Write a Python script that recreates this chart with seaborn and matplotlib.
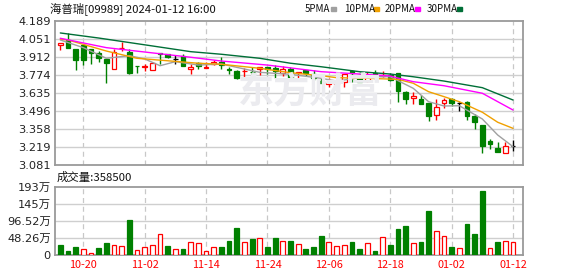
import numpy as np
import matplotlib
matplotlib.use("Agg")
import matplotlib.pyplot as plt
import seaborn as sns

# ---------------- data ----------------
dates = ["10-17", "10-18", "10-19", "10-20", "10-24", "10-25", "10-26", "10-27",
         "10-30", "10-31", "11-01", "11-02", "11-03", "11-06", "11-07", "11-08",
         "11-09", "11-10", "11-13", "11-14", "11-15", "11-16", "11-17", "11-20",
         "11-21", "11-22", "11-23", "11-24", "11-27", "11-28", "11-29", "11-30",
         "12-01", "12-04", "12-05", "12-06", "12-07", "12-08", "12-11", "12-12",
         "12-13", "12-14", "12-15", "12-18", "12-19", "12-20", "12-21", "12-22",
         "12-27", "12-28", "12-29", "01-02", "01-03", "01-04", "01-05", "01-08",
         "01-09", "01-10", "01-11", "01-12"]

opens = [4.004, 4.043, 3.974, 4.002, 3.974, 3.940, 3.899, 3.816, 3.978, 3.948,
         3.842, 3.836, 3.812, 3.942, 3.935, 3.897, 3.922, 3.817, 3.868, 3.829,
         3.856, 3.876, 3.816, 3.807, 3.803, 3.800, 3.817, 3.833, 3.824, 3.789,
         3.820, 3.791, 3.812, 3.779, 3.730, 3.708, 3.704, 3.717, 3.808, 3.777,
         3.724, 3.789, 3.768, 3.777, 3.787, 3.640, 3.594, 3.585, 3.558, 3.466,
         3.556, 3.587, 3.556, 3.566, 3.460, 3.389, 3.262, 3.208, 3.176, 3.229]
highs = [4.022, 4.094, 3.974, 4.002, 3.974, 3.962, 3.902, 3.977, 4.031, 3.976,
         3.842, 3.858, 3.877, 3.944, 3.938, 3.927, 3.935, 3.858, 3.870, 3.876,
         3.889, 3.914, 3.833, 3.810, 3.825, 3.837, 3.834, 3.835, 3.850, 3.843,
         3.835, 3.796, 3.814, 3.812, 3.748, 3.748, 3.748, 3.785, 3.812, 3.797,
         3.793, 3.812, 3.804, 3.789, 3.789, 3.654, 3.645, 3.620, 3.560, 3.587,
         3.594, 3.597, 3.568, 3.577, 3.471, 3.390, 3.283, 3.260, 3.256, 3.273]
lows = [3.966, 3.979, 3.812, 3.854, 3.858, 3.877, 3.712, 3.816, 3.960, 3.781,
        3.787, 3.808, 3.810, 3.856, 3.905, 3.858, 3.840, 3.781, 3.817, 3.825,
        3.854, 3.817, 3.781, 3.743, 3.758, 3.773, 3.777, 3.785, 3.754, 3.762,
        3.735, 3.748, 3.766, 3.735, 3.710, 3.684, 3.703, 3.684, 3.722, 3.716,
        3.722, 3.743, 3.760, 3.731, 3.568, 3.550, 3.550, 3.552, 3.420, 3.427,
        3.522, 3.535, 3.499, 3.427, 3.358, 3.176, 3.202, 3.178, 3.174, 3.189]
closes = [4.022, 3.979, 3.889, 3.889, 3.939, 3.908, 3.862, 3.950, 3.984, 3.787,
          3.839, 3.840, 3.868, 3.938, 3.910, 3.897, 3.843, 3.833, 3.843, 3.833,
          3.876, 3.850, 3.812, 3.754, 3.806, 3.797, 3.833, 3.817, 3.804, 3.817,
          3.750, 3.794, 3.787, 3.748, 3.714, 3.711, 3.722, 3.781, 3.791, 3.722,
          3.777, 3.760, 3.774, 3.735, 3.653, 3.585, 3.612, 3.554, 3.458, 3.525,
          3.581, 3.556, 3.556, 3.460, 3.414, 3.231, 3.246, 3.181, 3.227, 3.229]

# volume in 万 shares, and bar colour as drawn (r = up, g = down)
volumes = [29.0, 12.3, 23.7, 18.0, 6.6, 20.8, 35.0, 28.4, 26.5, 100.3,
           15.1, 23.7, 29.3, 59.6, 26.5, 18.0, 18.0, 37.8, 34.0, 12.3,
           22.7, 23.7, 40.7, 77.6, 37.8, 46.4, 49.2, 23.7, 49.2, 40.7,
           40.7, 32.2, 18.0, 23.7, 54.9, 37.8, 26.5, 29.3, 37.8, 18.0,
           35.0, 12.3, 52.0, 29.3, 74.7, 83.3, 35.0, 37.8, 124.0, 69.1,
           54.9, 23.7, 20.8, 88.9, 60.6, 182.5, 20.8, 37.8, 40.7, 35.85]
vol_dir = list("gggrrggrrgrrrrgrgrrrrgggrgrggrgrgggrrrggrgrgggrggrrgrgggrgrr")

# moving averages read at candle indices
ma5_idx = [0, 3, 6, 9, 11, 13, 15, 18, 21, 26, 30, 34, 36, 40, 43, 46, 48, 50, 52, 55, 57, 59]
ma5_val = [4.043, 3.984, 3.902, 3.922, 3.897, 3.845, 3.876, 3.850, 3.858, 3.794, 3.779,
           3.748, 3.727, 3.760, 3.760, 3.671, 3.568, 3.535, 3.537, 3.435, 3.312, 3.222]
ma10_idx = [0, 1, 6, 10, 18, 21, 26, 30, 34, 36, 40, 44, 46, 48, 50, 52, 55, 57, 59]
ma10_val = [4.050, 4.043, 3.958, 3.902, 3.864, 3.856, 3.825, 3.791, 3.768, 3.753, 3.748,
            3.740, 3.710, 3.645, 3.607, 3.568, 3.487, 3.410, 3.363]
ma20_idx = [0, 6, 17, 21, 27, 34, 39, 43, 44, 46, 50, 55, 59]
ma20_val = [4.056, 3.984, 3.910, 3.881, 3.850, 3.799, 3.781, 3.766, 3.750, 3.722, 3.691, 3.633, 3.504]
ma30_idx = [0, 5, 12, 17, 21, 26, 30, 34, 39, 43, 46, 50, 55, 59]
ma30_val = [4.097, 4.058, 3.997, 3.953, 3.933, 3.902, 3.864, 3.837, 3.799, 3.781, 3.760,
            3.727, 3.676, 3.581]

price_ticks = [3.081, 3.219, 3.358, 3.496, 3.635, 3.774, 3.912, 4.051, 4.189]
vol_ticks = [0, 48.26, 96.52, 144.78, 193.04]
vol_tick_labels = ["0", "48.26万", "96.52万", "145万", "193万"]
date_tick_idx = [3, 11, 19, 27, 35, 43, 51, 59]

title = "海普瑞[09989] 2024-01-12 16:00"
vol_title = "成交量:358500"
legend_names = ["5PMA", "10PMA", "20PMA", "30PMA"]

# ---------------- style ----------------
sns.set_style("white")
plt.rcParams["font.family"] = ["DejaVu Sans", "Noto Sans CJK SC"]

RED = "#ff0000"
GREEN = "#008000"
MA_COLORS = ["#a0a0a0", "#f0a000", "#ff00ff", "#006f37"]
GRID = "#cfcfcf"
FRAME = "#9a9a9a"

W, H = 578, 276
fig = plt.figure(figsize=(W / 100, H / 100), dpi=100)
ax = fig.add_axes([55 / W, 1 - 165 / H, 468 / W, 144 / H])
axv = fig.add_axes([55 / W, 1 - 255 / H, 468 / W, 68 / H])

n = len(closes)
xlim = (-0.69, 60.3)

for a in (ax, axv):
    a.set_xlim(*xlim)
    for s in a.spines.values():
        s.set_color(FRAME)
        s.set_linewidth(1.3)
    for xi in date_tick_idx:
        a.axvline(xi, color="#c8c8c8", lw=0.9, ls=(0, (4, 3)), zorder=0)
    a.tick_params(axis="both", length=0, labelsize=8.2, colors="#222222", pad=3)

# watermark
fig.text(310 / W, 1 - 92 / H, "东方财富", fontsize=26, color="#ebebef",
         fontweight="bold", family=["Noto Sans CJK SC"], ha="center", va="center", zorder=0)

# price grid
ax.set_ylim(price_ticks[0], price_ticks[-1])
ax.set_yticks(price_ticks)
ax.set_yticklabels([f"{v:.3f}" for v in price_ticks])
for v in price_ticks[1:-1]:
    ax.axhline(v, color=GRID, lw=1.0, zorder=0)
ax.set_xticks([])

# candles
bw = 0.62
for i in range(n):
    o, h, l, c = opens[i], highs[i], lows[i], closes[i]
    if c > o:
        col, face = RED, "white"
    elif c < o:
        col, face = GREEN, GREEN
    else:
        col, face = "black", "black"
    lo_b, hi_b = min(o, c), max(o, c)
    ax.vlines(i, l, h, color=col, lw=1.0, zorder=2)
    hgt = max(hi_b - lo_b, 0.0015)
    ax.bar(i, hgt, bottom=lo_b if hi_b - lo_b > 0.0015 else lo_b - 0.00075,
           width=bw, color=face, edgecolor=col, linewidth=0.9, zorder=3)

# moving averages
for idx, val, colr in zip([ma5_idx, ma10_idx, ma20_idx, ma30_idx],
                          [ma5_val, ma10_val, ma20_val, ma30_val], MA_COLORS):
    sns.lineplot(x=idx, y=val, ax=ax, color=colr, lw=1.0, zorder=4)

# volume
axv.set_ylim(vol_ticks[0], vol_ticks[-1])
axv.set_yticks(vol_ticks)
axv.set_yticklabels(vol_tick_labels)
for v in vol_ticks[1:-1]:
    axv.axhline(v, color=GRID, lw=1.0, zorder=0)
for i in range(n):
    if vol_dir[i] == "r":
        axv.bar(i, volumes[i], width=bw, color="white", edgecolor=RED, linewidth=0.9, zorder=3)
    else:
        axv.bar(i, volumes[i], width=bw, color=GREEN, edgecolor=GREEN, linewidth=0.9, zorder=3)
axv.set_xticks(date_tick_idx)
axv.set_xticklabels([dates[i] for i in date_tick_idx], color=RED,
                    family=["Noto Sans CJK SC"], fontsize=7.8)
axv.tick_params(axis="x", pad=3.5)

# texts
fig.text(50 / W, 1 - 9 / H, title, fontsize=8.2, family=["Noto Sans CJK SC"],
         ha="left", va="center", color="#111111")
fig.text(57 / W, 1 - 177 / H, vol_title, fontsize=8.2, family=["Noto Sans CJK SC"],
         ha="left", va="center", color="#111111")
leg_x = [305, 344, 385, 427]
sq_x = [331, 374, 415, 457]
for name, lx, sx, colr in zip(legend_names, leg_x, sq_x, MA_COLORS):
    fig.text(lx / W, 1 - 9 / H, name, fontsize=7.0, family=["Noto Sans CJK SC"],
             ha="left", va="center", color="#111111")
    fig.patches.append(plt.Rectangle((sx / W, 1 - 11 / H), 5 / W, 4 / H,
                                     transform=fig.transFigure, color=colr))

fig.savefig("out.png", dpi=100)
